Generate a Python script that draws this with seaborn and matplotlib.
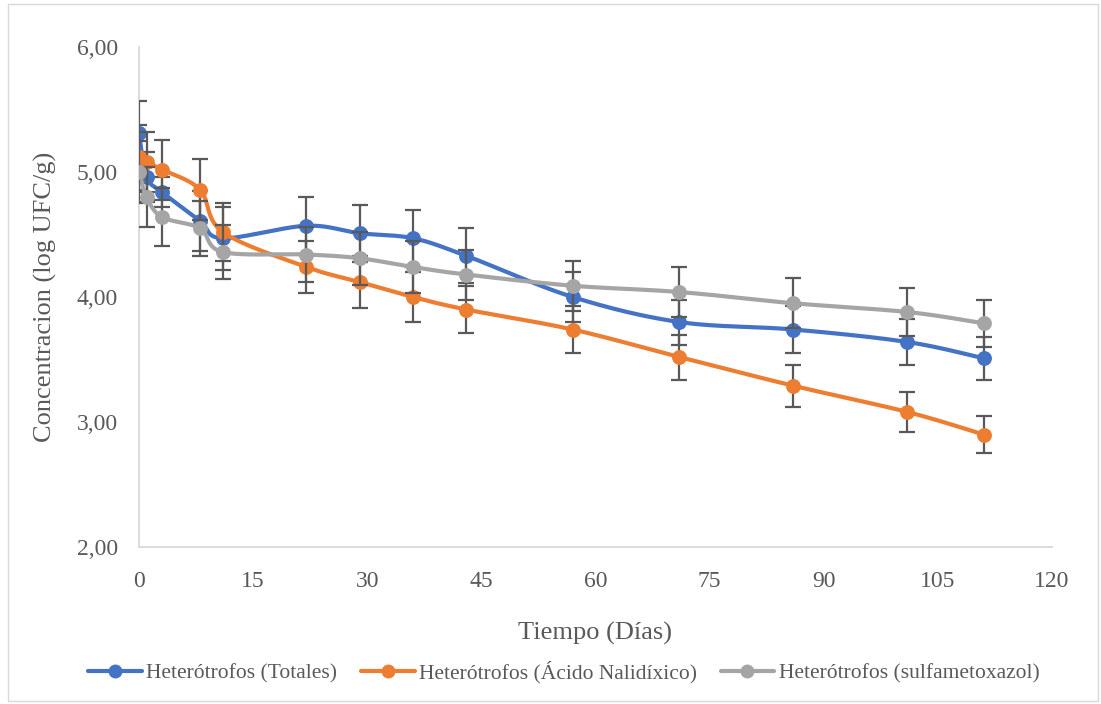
import numpy as np
import pandas as pd
import matplotlib
matplotlib.use("Agg")
import matplotlib.pyplot as plt
import seaborn as sns
from matplotlib.lines import Line2D
from matplotlib.patches import Rectangle
from matplotlib.ticker import FuncFormatter

# ---------------- data ----------------
days = [0, 1, 3, 8, 11, 22, 29, 36, 43, 57, 71, 86, 101, 111]
series_names = ["Heterótrofos (Totales)",
                "Heterótrofos (Ácido Nalidíxico)",
                "Heterótrofos (sulfametoxazol)"]
totales = [5.31, 4.96, 4.84, 4.61, 4.47, 4.57, 4.51, 4.47, 4.33, 4.00, 3.80, 3.74, 3.64, 3.51]
totales_err = [0.26, 0.20, 0.12, 0.24, 0.25, 0.23, 0.23, 0.23, 0.22, 0.20, 0.18, 0.19, 0.18, 0.17]
nalidixico = [5.12, 5.08, 5.02, 4.86, 4.52, 4.24, 4.12, 4.00, 3.90, 3.74, 3.52, 3.29, 3.08, 2.90]
nalidixico_err = [0.26, 0.24, 0.24, 0.24, 0.23, 0.21, 0.21, 0.20, 0.19, 0.19, 0.18, 0.17, 0.16, 0.15]
sulfa = [5.00, 4.80, 4.64, 4.55, 4.36, 4.34, 4.31, 4.24, 4.18, 4.09, 4.04, 3.95, 3.88, 3.79]
sulfa_err = [0.25, 0.24, 0.23, 0.22, 0.22, 0.22, 0.21, 0.21, 0.20, 0.20, 0.20, 0.20, 0.19, 0.19]
colors = ["#4472C4", "#ED7D31", "#A5A5A5"]
x_ticks = [0, 15, 30, 45, 60, 75, 90, 105, 120]
y_ticks = [2, 3, 4, 5, 6]

values = [totales, nalidixico, sulfa]
errors = [totales_err, nalidixico_err, sulfa_err]

# ---------------- smooth (Excel-like bezier) ----------------
def smooth(xs, ys, n=40):
    P = np.column_stack([xs, ys]).astype(float)
    m = len(P)
    out = []
    for i in range(m - 1):
        p0 = P[max(i - 1, 0)]
        p1 = P[i]
        p2 = P[i + 1]
        p3 = P[min(i + 2, m - 1)]
        c1 = p1 + (p2 - p0) / 6.0
        c2 = p2 - (p3 - p1) / 6.0
        t = np.linspace(0, 1, n)[:, None]
        seg = ((1 - t) ** 3) * p1 + 3 * ((1 - t) ** 2) * t * c1 + 3 * (1 - t) * t ** 2 * c2 + t ** 3 * p2
        if i > 0:
            seg = seg[1:]
        out.append(seg)
    return np.vstack(out)

curve_frames = []
point_frames = []
for name, v, e in zip(series_names, values, errors):
    c = smooth(days, v)
    curve_frames.append(pd.DataFrame({"x": c[:, 0], "y": c[:, 1], "serie": name,
                                      "order": np.arange(len(c))}))
    point_frames.append(pd.DataFrame({"x": days, "y": v, "err": e, "serie": name}))
curves = pd.concat(curve_frames, ignore_index=True)
points = pd.concat(point_frames, ignore_index=True)

# ---------------- figure ----------------
sns.set_theme(style="white")
plt.rcParams["font.family"] = ["Liberation Serif", "DejaVu Serif"]

fig = plt.figure(figsize=(11.01, 7.04), dpi=100)
ax = fig.add_axes([139 / 1101, 1 - 547 / 704, (1052 - 139) / 1101, (547 - 47) / 704])

txt = "#595959"

for i, name in enumerate(series_names):
    cdf = curves[curves.serie == name]
    pdf = points[points.serie == name]
    sns.lineplot(data=cdf, x="x", y="y", sort=False, estimator=None, color=colors[i],
                 linewidth=3.0, ax=ax, legend=False, zorder=2 + i * 3)
    ax.errorbar(pdf["x"], pdf["y"], yerr=pdf["err"], fmt="none", ecolor="#595959",
                elinewidth=1.6, capsize=5.5, capthick=1.6, zorder=3 + i * 3)
    sns.scatterplot(data=pdf, x="x", y="y", color=colors[i], s=115, edgecolor=colors[i],
                    linewidth=0, ax=ax, legend=False, zorder=4 + i * 3)

ax.set_xlim(0, 120)
ax.set_ylim(2, 6)
ax.set_xticks(x_ticks)
ax.set_yticks(y_ticks)
ax.yaxis.set_major_formatter(FuncFormatter(lambda v, p: f"{v:.2f}".replace(".", ",")))
ax.tick_params(axis="both", which="major", labelsize=17, colors="#d9d9d9",
               labelcolor=txt, length=5, width=1.2, direction="out")
ax.tick_params(axis="x", pad=12)
ax.tick_params(axis="y", pad=10)
for s in ["top", "right"]:
    ax.spines[s].set_visible(False)
for s in ["left", "bottom"]:
    ax.spines[s].set_color("#d9d9d9")
    ax.spines[s].set_linewidth(1.3)
ax.grid(False)
ax.set_xlabel("Tiempo (Días)", fontsize=19, color=txt, labelpad=22)
ax.set_ylabel("Concentracion (log UFC/g)", fontsize=19, color=txt, labelpad=14)

handles = [Line2D([0], [0], color=c, lw=3.0, marker="o", markersize=9) for c in colors]
fig.legend(handles, series_names, loc="center", bbox_to_anchor=(0.512, 1 - 672 / 704),
           ncol=3, frameon=False, fontsize=15.5, handlelength=2.5, columnspacing=1.1,
           handletextpad=0.2, labelcolor=txt)

fig.patches.append(Rectangle((8 / 1101, 3 / 704), 1090 / 1101, 697 / 704,
                             transform=fig.transFigure, fill=False,
                             edgecolor="#d9d9d9", linewidth=1.0))

fig.savefig("out.png", dpi=100)
